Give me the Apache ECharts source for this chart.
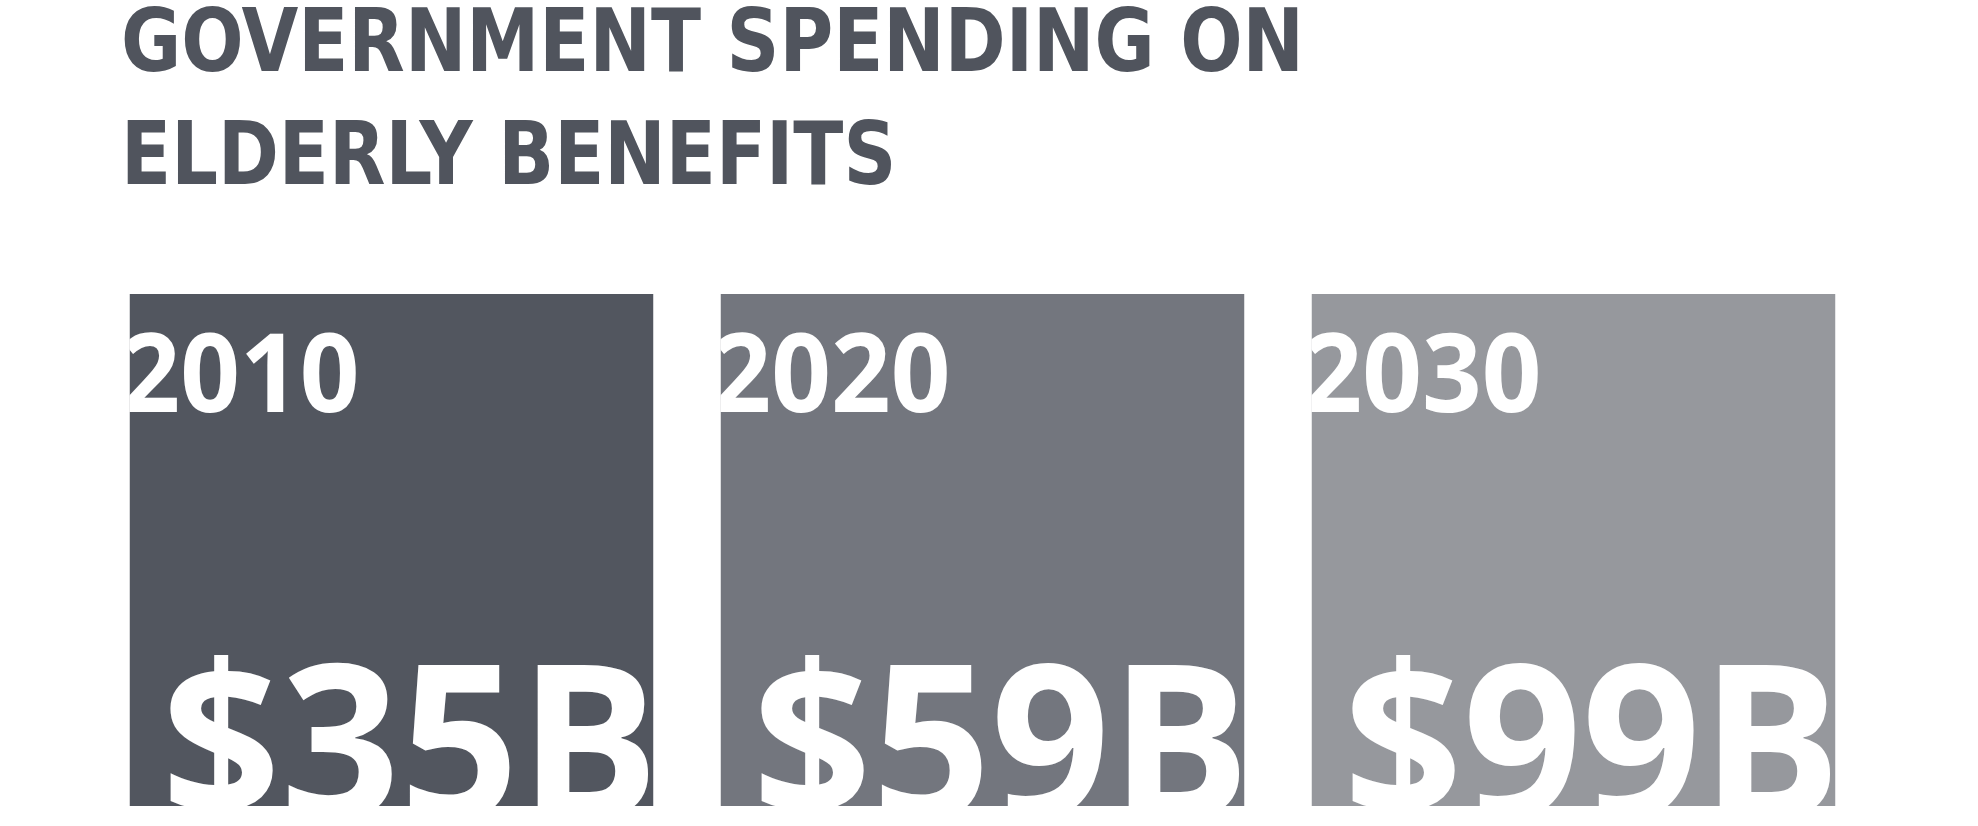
<!DOCTYPE html>
<html>
<head>
<meta charset="utf-8">
<script src="https://cdn.jsdelivr.net/npm/echarts@6/dist/echarts.min.js"></script>
<style>
  html, body { margin: 0; padding: 0; background: #ffffff; }
  #chart { width: 1978px; height: 826px; }
</style>
</head>
<body>
<div id="chart"></div>
<script>
// ---- data ----
const titleLines = ['GOVERNMENT SPENDING ON', 'ELDERLY BENEFITS'];
const years = ['2010', '2020', '2030'];
const spendingBillions = [35, 59, 99];
const valueLabels = spendingBillions.map(v => '$' + v + 'B');

// ---- style ----
const tileColors = ['#52565f', '#73767e', '#96989d'];
const titleColor = '#50545d';

const chart = echarts.init(document.getElementById('chart'), null, { renderer: 'canvas' });

chart.setOption({
  backgroundColor: '#ffffff',
  animation: false,
  graphic: [{
    type: 'text',
    x: 121,
    y: -8,
    scaleX: 0.927,
    style: {
      text: titleLines.join('\n'),
      font: 'bold 88px "DejaVu Sans Condensed", "DejaVu Sans", sans-serif',
      lineHeight: 113,
      fill: titleColor,
      textAlign: 'left',
      verticalAlign: 'top',
      textVerticalAlign: 'top'
    }
  }],
  grid: { left: 96, right: 109, top: 294, bottom: 20 },
  xAxis: { type: 'category', data: years, show: false, boundaryGap: true },
  yAxis: { type: 'value', min: 0, max: 100, show: false },
  series: [{
    type: 'custom',
    data: years.map((y, i) => [i, spendingBillions[i]]),
    encode: { x: 0, y: 1 },
    renderItem: function (params, api) {
      const idx = api.value(0);
      const cx = api.coord([idx, 0])[0];
      const bw = api.size([1, 0])[0] * 0.8866;
      const cs = params.coordSys;
      const x0 = cx - bw / 2;
      const y0 = cs.y;
      const h = cs.height;
      return {
        type: 'group',
        clipPath: { type: 'rect', shape: { x: x0, y: y0, width: bw, height: h } },
        children: [
          { type: 'rect', shape: { x: x0, y: y0, width: bw, height: h }, style: { fill: tileColors[idx] } },
          {
            type: 'text',
            x: x0 - 9,
            y: y0 + 87,
            scaleX: 0.95,
            style: {
              text: years[idx], x: 0, y: 0,
              fill: '#ffffff', font: '700 110px "Open Sans", sans-serif',
              textAlign: 'left', textVerticalAlign: 'middle'
            }
          },
          {
            type: 'text',
            x: x0 + 32,
            y: y0 + h - 49,
            scaleX: 0.965,
            style: {
              text: valueLabels[idx], x: 0, y: 0,
              fill: '#ffffff', font: '700 216px "Open Sans", sans-serif',
              textAlign: 'left', textVerticalAlign: 'middle'
            }
          }
        ]
      };
    }
  }]
});
</script>
</body>
</html>
